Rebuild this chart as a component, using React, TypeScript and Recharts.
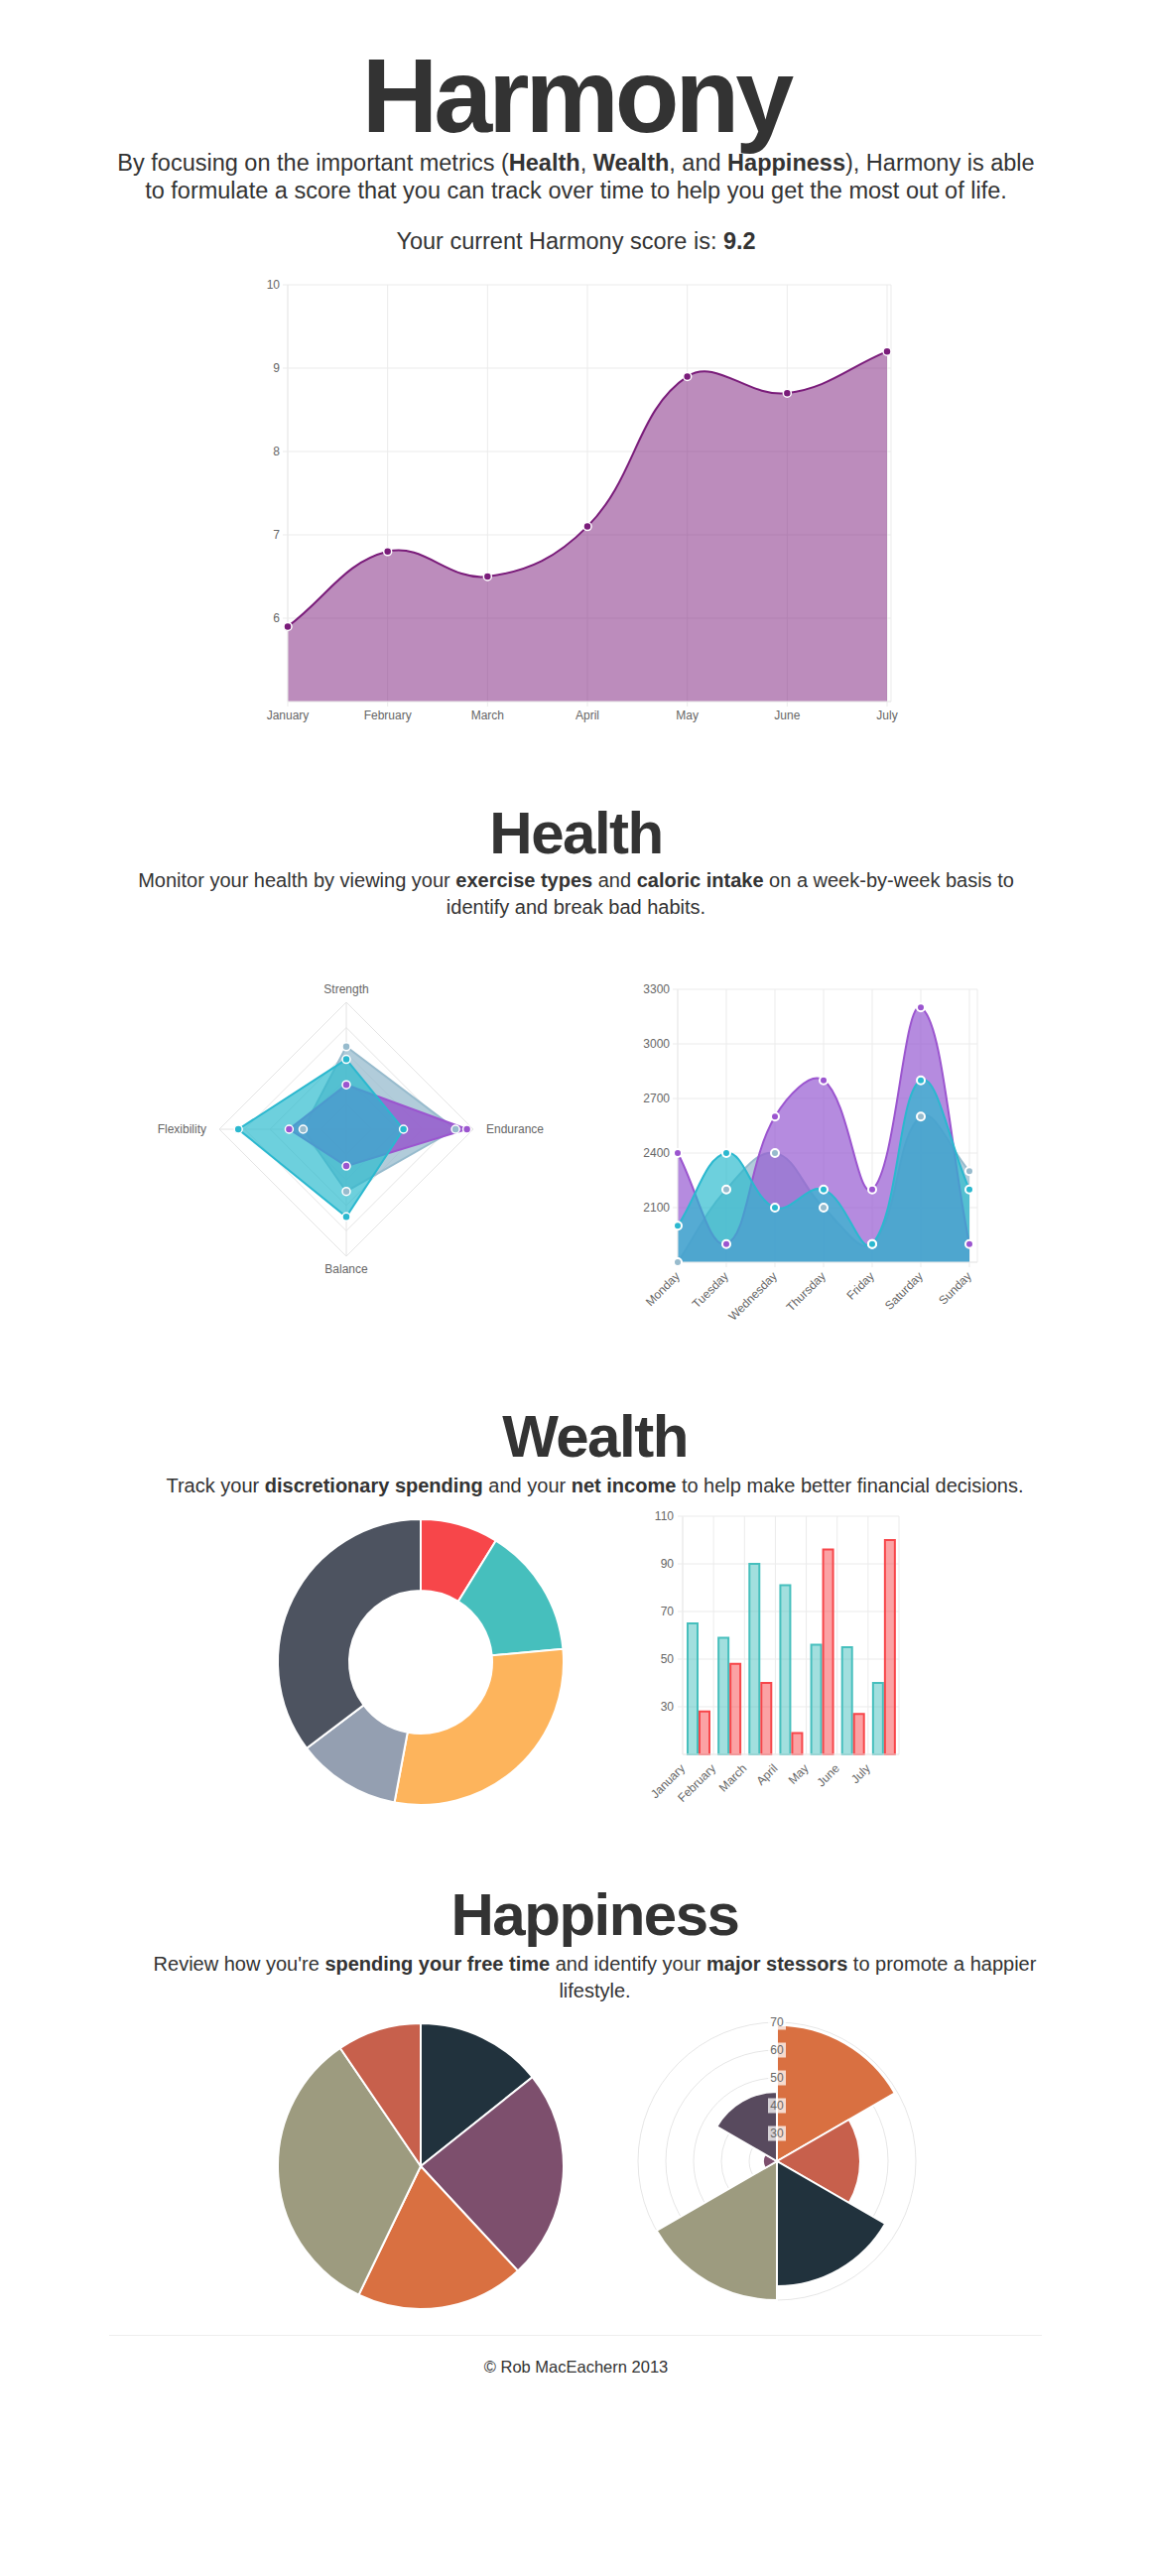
import React from 'react';
import {
  Area, AreaChart, Bar, BarChart, CartesianGrid, Cell, Pie, PieChart, PolarAngleAxis, PolarGrid,
  PolarRadiusAxis, Radar, RadarChart, RadialBar, RadialBarChart, XAxis, YAxis,
} from 'recharts';

const font = "'Liberation Sans', Arial, Helvetica, sans-serif";

// Harmony score
const months = ['January', 'February', 'March', 'April', 'May', 'June', 'July'];
const harmonyScores = [5.9, 6.8, 6.5, 7.1, 8.9, 8.7, 9.2];
const harmonyTicks = [6, 7, 8, 9, 10];

// Health: exercise types
const exerciseTypes = ['Strength', 'Endurance', 'Balance', 'Flexibility'];
const exerciseA = [65, 86, 49, 34];
const exerciseB = [35, 95, 29, 45];
const exerciseC = [55, 45, 69, 85];

// Health: caloric intake
const weekdays = ['Monday', 'Tuesday', 'Wednesday', 'Thursday', 'Friday', 'Saturday', 'Sunday'];
const caloriesA = [1800, 2200, 2400, 2100, 1900, 2600, 2300];
const caloriesB = [2400, 1900, 2600, 2800, 2200, 3200, 1900];
const caloriesC = [2000, 2400, 2100, 2200, 1900, 2800, 2200];
const calorieTicks = [2100, 2400, 2700, 3000, 3300];

// Wealth
const spending = [30, 50, 100, 40, 120];
const incomeA = [65, 59, 90, 81, 56, 55, 40];
const incomeB = [28, 48, 40, 19, 96, 27, 100];
const incomeTicks = [30, 50, 70, 90, 110];

// Happiness
const freeTime = [30, 50, 40, 70, 20];
const stressors = [69, 50, 65, 70, 25, 45];

const spendColors = ['#F7464A', '#46BFBD', '#FDB45C', '#949FB1', '#4D5360'];
const freeTimeColors = ['#21323D', '#7D4F6D', '#D97041', '#9D9B7F', '#C7604C'];
const stressColors = ['#D97041', '#C7604C', '#21323D', '#9D9B7F', '#7D4F6D', '#584A5E'];

const GRAY = '#97BBCD';
const PURPLE = '#9B55CF';
const CYAN = '#2BB8CF';
const GRID = '#ebebeb';

const harmonyData = months.map((month, i) => ({ month, score: harmonyScores[i] }));
const exerciseData = exerciseTypes.map((type, i) => ({ type, a: exerciseA[i], b: exerciseB[i], c: exerciseC[i] }));
const calorieData = weekdays.map((day, i) => ({ day, a: caloriesA[i], b: caloriesB[i], c: caloriesC[i] }));
const spendingData = spending.map((value, i) => ({ id: i, value }));
const incomeData = months.map((month, i) => ({ month, a: incomeA[i], b: incomeB[i] }));
const freeTimeData = freeTime.map((value, i) => ({ id: i, value }));
const stressData = stressors.map((value, i) => ({ id: String(i), value }));

const tickStyle = { fontSize: 12, fill: '#666', fontFamily: font };

// bezier like the old Chart.js line charts (tension 0.4, control points kept inside the plot)
function chartCurve(tension: number, minY: number, maxY: number) {
  return (context: any) => {
    let line = NaN;
    let pts: number[][] = [];
    const clamp = (v: number) => Math.max(minY, Math.min(maxY, v));
    return {
      areaStart() { line = 0; },
      areaEnd() { line = NaN; },
      lineStart() { pts = []; },
      point(x: number, y: number) { pts.push([+x, +y]); },
      lineEnd() {
        const n = pts.length;
        if (n > 0) {
          if (line) context.lineTo(pts[0][0], pts[0][1]);
          else context.moveTo(pts[0][0], pts[0][1]);
          const ctrl = pts.map((p, i) => {
            const prev = pts[i - 1] || p;
            const next = pts[i + 1] || p;
            const d01 = Math.hypot(p[0] - prev[0], p[1] - prev[1]);
            const d12 = Math.hypot(next[0] - p[0], next[1] - p[1]);
            const sum = d01 + d12 || 1;
            const fa = (tension * d01) / sum;
            const fb = (tension * d12) / sum;
            return {
              inner: [p[0] - fa * (next[0] - prev[0]), clamp(p[1] - fa * (next[1] - prev[1]))],
              outer: [p[0] + fb * (next[0] - prev[0]), clamp(p[1] + fb * (next[1] - prev[1]))],
            };
          });
          for (let i = 1; i < n; i++) {
            const c1 = ctrl[i - 1].outer;
            const c2 = ctrl[i].inner;
            context.bezierCurveTo(c1[0], c1[1], c2[0], c2[1], pts[i][0], pts[i][1]);
          }
        }
        if (line || (line !== 0 && n === 1)) context.closePath();
        line = 1 - line;
      },
    };
  };
}

function SlantTick(props: any) {
  const { x, y, payload, shift = 0 } = props;
  const ax = x + shift;
  const ay = y + 3;
  return (
    <text x={ax} y={ay} transform={`rotate(-45 ${ax} ${ay})`} textAnchor="end" dominantBaseline="central"
      fontSize={12} fill="#666" fontFamily={font}>
      {payload.value}
    </text>
  );
}

const radarTick = (props: any) => {
  const { x, y, payload, textAnchor } = props;
  return (
    <text x={x} y={y} textAnchor={textAnchor} dominantBaseline="central" fontSize={12} fill="#666" fontFamily={font}>
      {payload.value}
    </text>
  );
};

const polarTick = (props: any) => {
  const { x, y, payload } = props;
  if (payload.value <= 20) return <g />;
  return (
    <g>
      <rect x={x - 9} y={y - 7.5} width={18} height={15} fill="rgba(255,255,255,0.75)" />
      <text x={x} y={y} textAnchor="middle" dominantBaseline="central" fontSize={12} fill="#666" fontFamily={font}>
        {payload.value}
      </text>
    </g>
  );
};

const bandEdges = (args: any) => {
  const offset = args && args.offset;
  if (!offset) return [];
  return months.map((_, i) => offset.left + (i * offset.width) / months.length).concat(offset.left + offset.width);
};

function HarmonyChart() {
  const curve = chartCurve(0.4, 20, 440);
  return (
    <AreaChart width={690} height={490} data={harmonyData} margin={{ top: 20, right: 22, bottom: 20, left: 0 }}>
      <CartesianGrid stroke={GRID} />
      <XAxis dataKey="month" interval={0} tick={tickStyle} height={30} tickSize={5} tickMargin={4}
        axisLine={{ stroke: GRID }} tickLine={{ stroke: GRID }} padding={{ left: 0, right: 4 }} />
      <YAxis domain={[5, 10]} ticks={harmonyTicks} width={60} tick={tickStyle} tickSize={5} tickMargin={3}
        axisLine={{ stroke: GRID }} tickLine={{ stroke: GRID }} />
      <Area type={curve as any} dataKey="score" stroke="#7a1c7a" strokeWidth={2} fill="#7a1a7a" fillOpacity={0.5}
        dot={{ r: 4, fill: '#7a1c7a', fillOpacity: 1, stroke: '#fff', strokeWidth: 1.5 }} activeDot={false}
        isAnimationActive={false} />
    </AreaChart>
  );
}

function ExerciseChart() {
  const dot = (c: string) => ({ r: 4, fill: c, fillOpacity: 1, stroke: '#fff', strokeWidth: 1.5 });
  return (
    <RadarChart width={440} height={320} cx={220} cy={160} outerRadius={128} data={exerciseData}
      startAngle={90} endAngle={-270}>
      <PolarGrid stroke="#e4e4e4" gridType="polygon" />
      <PolarAngleAxis dataKey="type" tick={radarTick} tickLine={false} axisLine={false} tickSize={13} />
      <PolarRadiusAxis domain={[0, 100]} tickCount={6} tick={false} axisLine={false} />
      <Radar dataKey="a" stroke={GRAY} strokeWidth={2} fill="rgb(151,187,205)" fillOpacity={0.75} dot={dot(GRAY)}
        isAnimationActive={false} />
      <Radar dataKey="b" stroke={PURPLE} strokeWidth={2} fill="rgb(150,90,205)" fillOpacity={0.85} dot={dot(PURPLE)}
        isAnimationActive={false} />
      <Radar dataKey="c" stroke={CYAN} strokeWidth={2} fill="rgb(40,185,205)" fillOpacity={0.68} dot={dot(CYAN)}
        isAnimationActive={false} />
    </RadarChart>
  );
}

function CaloriesChart() {
  const curve = chartCurve(0.4, 20, 295) as any;
  const dot = (c: string) => ({ r: 4, fill: c, fillOpacity: 1, stroke: '#fff', strokeWidth: 2 });
  return (
    <AreaChart width={400} height={380} data={calorieData} margin={{ top: 20, right: 15, bottom: 20, left: 0 }}>
      <CartesianGrid stroke={GRID} />
      <XAxis dataKey="day" interval={0} height={65} tickSize={5} tickMargin={4} tick={<SlantTick />}
        axisLine={{ stroke: GRID }} tickLine={{ stroke: GRID }} padding={{ left: 0, right: 8 }} />
      <YAxis domain={[1800, 3300]} ticks={calorieTicks} width={83} tick={tickStyle} tickSize={5} tickMargin={3}
        axisLine={{ stroke: GRID }} tickLine={{ stroke: GRID }} />
      <Area type={curve} dataKey="a" stroke={GRAY} strokeWidth={2} fill="rgb(151,187,205)" fillOpacity={0.75}
        dot={dot(GRAY)} activeDot={false} isAnimationActive={false} />
      <Area type={curve} dataKey="b" stroke={PURPLE} strokeWidth={2} fill="rgb(150,90,210)" fillOpacity={0.7}
        dot={dot(PURPLE)} activeDot={false} isAnimationActive={false} />
      <Area type={curve} dataKey="c" stroke={CYAN} strokeWidth={2} fill="rgb(40,185,205)" fillOpacity={0.68}
        dot={dot(CYAN)} activeDot={false} isAnimationActive={false} />
    </AreaChart>
  );
}

function SpendingChart() {
  return (
    <PieChart width={320} height={320}>
      <Pie data={spendingData} dataKey="value" cx={160} cy={160} innerRadius={72} outerRadius={144}
        startAngle={90} endAngle={-270} stroke="#fff" strokeWidth={2} isAnimationActive={false}>
        {spendingData.map((d, i) => <Cell key={d.id} fill={spendColors[i]} />)}
      </Pie>
    </PieChart>
  );
}

function IncomeChart() {
  return (
    <BarChart width={320} height={330} data={incomeData} margin={{ top: 20, right: 14, bottom: 10, left: 0 }}
      barSize={10} barGap={2}>
      <CartesianGrid stroke={GRID} verticalCoordinatesGenerator={bandEdges as any} />
      <XAxis dataKey="month" interval={0} height={60} tickSize={5} tickMargin={4} tick={<SlantTick shift={-15.5} />}
        axisLine={{ stroke: GRID }} tickLine={false} />
      <YAxis domain={[10, 110]} ticks={incomeTicks} width={88} tick={tickStyle} tickSize={5} tickMargin={4}
        axisLine={{ stroke: GRID }} tickLine={{ stroke: GRID }} />
      <Bar dataKey="a" fill="#46BFBD" fillOpacity={0.5} stroke="#46BFBD" strokeWidth={2} isAnimationActive={false} />
      <Bar dataKey="b" fill="#F7464A" fillOpacity={0.5} stroke="#F7464A" strokeWidth={2} isAnimationActive={false} />
    </BarChart>
  );
}

function FreeTimeChart() {
  return (
    <PieChart width={320} height={320}>
      <Pie data={freeTimeData} dataKey="value" cx={160} cy={160} innerRadius={0} outerRadius={144}
        startAngle={90} endAngle={-270} stroke="#fff" strokeWidth={2} isAnimationActive={false}>
        {freeTimeData.map((d, i) => <Cell key={d.id} fill={freeTimeColors[i]} />)}
      </Pie>
    </PieChart>
  );
}

function StressChart() {
  // centric bars grow from each band's start towards larger angles, so the circle starts one band earlier
  return (
    <RadialBarChart width={320} height={320} cx={160} cy={160} innerRadius={0} outerRadius={140} data={stressData}
      layout="centric" startAngle={30} endAngle={-330} barCategoryGap={0} barGap={0}>
      <PolarAngleAxis type="category" dataKey="id" tick={false} tickLine={false} axisLine={false} />
      <PolarRadiusAxis type="number" domain={[20, 70]} tickCount={6} angle={90} tick={polarTick}
        axisLine={false} tickLine={false} />
      <RadialBar dataKey="value" stroke="#fff" strokeWidth={2} isAnimationActive={false}>
        {stressData.map((d, i) => <Cell key={d.id} fill={stressColors[i]} />)}
      </RadialBar>
      <PolarGrid gridType="circle" radialLines={false} stroke="rgba(0,0,0,0.1)" />
    </RadialBarChart>
  );
}

function Heading({ top, size, spacing, shift = 0, children }: any) {
  return (
    <div style={{ position: 'absolute', left: shift, top, width: 1161, textAlign: 'center', fontSize: size,
      fontWeight: 'bold', lineHeight: 1, letterSpacing: spacing, whiteSpace: 'nowrap' }}>
      {children}
    </div>
  );
}

function Para({ top, size, lh, shift = 0, children }: any) {
  return (
    <div style={{ position: 'absolute', left: shift, top, width: 1161, textAlign: 'center', fontSize: size,
      lineHeight: `${lh}px`, whiteSpace: 'nowrap' }}>
      {children}
    </div>
  );
}

function Place({ left, top, children }: any) {
  return <div style={{ position: 'absolute', left, top }}>{children}</div>;
}

export default function App() {
  return (
    <div style={{ position: 'absolute', left: 0, top: 0, width: 1161, height: 2596, background: '#fff',
      color: '#333', fontFamily: font, overflow: 'hidden' }}>
      <Heading top={43} size={106} spacing={-4}>Harmony</Heading>
      <Para top={150} size={23.5} lh={28.4}>
        By focusing on the important metrics (<b>Health</b>, <b>Wealth</b>, and <b>Happiness</b>), Harmony is able<br />
        to formulate a score that you can track over time to help you get the most out of life.
      </Para>
      <Para top={229} size={23.5} lh={28}>Your current Harmony score is: <b>9.2</b></Para>
      <Place left={230} top={267}><HarmonyChart /></Place>

      <Heading top={810} size={60} spacing={-1.5}>Health</Heading>
      <Para top={874} size={20} lh={27}>
        Monitor your health by viewing your <b>exercise types</b> and <b>caloric intake</b> on a week-by-week basis to<br />
        identify and break bad habits.
      </Para>
      <Place left={129} top={978}><ExerciseChart /></Place>
      <Place left={600} top={977}><CaloriesChart /></Place>

      <Heading top={1418} size={60} spacing={-1.5} shift={19}>Wealth</Heading>
      <Para top={1484} size={20} lh={27} shift={19}>
        Track your <b>discretionary spending</b> and your <b>net income</b> to help make better financial decisions.
      </Para>
      <Place left={259} top={1510}><SpendingChart /></Place>
      <Place left={600} top={1508}><IncomeChart /></Place>

      <Heading top={1900} size={60} spacing={-1.5} shift={19}>Happiness</Heading>
      <Para top={1966} size={20} lh={27} shift={19}>
        Review how you're <b>spending your free time</b> and identify your <b>major stessors</b> to promote a happier<br />
        lifestyle.
      </Para>
      <Place left={259} top={2018}><FreeTimeChart /></Place>
      <Place left={623} top={2018}><StressChart /></Place>

      <div style={{ position: 'absolute', left: 110, top: 2353, width: 940, height: 1, background: '#eee' }} />
      <Para top={2375} size={16.5} lh={20}>© Rob MacEachern 2013</Para>
    </div>
  );
}
